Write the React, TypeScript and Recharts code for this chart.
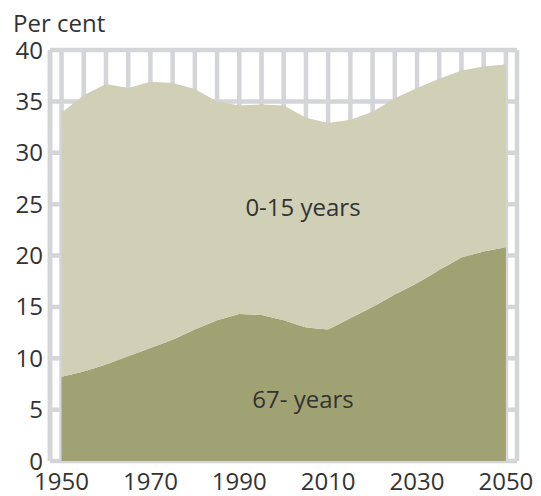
import { AreaChart, Area, XAxis, YAxis, CartesianGrid } from 'recharts';

const years = [1950, 1955, 1960, 1965, 1970, 1975, 1980, 1985, 1990, 1995, 2000, 2005, 2010, 2015, 2020, 2025, 2030, 2035, 2040, 2045, 2050];
const age67plus = [8.2, 8.7, 9.4, 10.2, 11.0, 11.8, 12.8, 13.7, 14.3, 14.2, 13.7, 13.0, 12.8, 13.9, 15.0, 16.2, 17.3, 18.6, 19.8, 20.4, 20.8];
const age0to15 = [25.7, 26.9, 27.3, 26.1, 25.9, 25.0, 23.4, 21.3, 20.3, 20.5, 20.9, 20.4, 20.1, 19.3, 19.0, 19.1, 19.0, 18.6, 18.2, 18.0, 17.8];
const labelYears = [1950, 1970, 1990, 2010, 2030, 2050];
const yTicks = [0, 5, 10, 15, 20, 25, 30, 35, 40];

const data = years.map((year, i) => ({ year, old: age67plus[i], young: age0to15[i] }));

const gridColor = '#d4d5d8';
const textColor = '#333333';
const font = "'Open Sans', sans-serif";

const App = () => {
  return (
    <div style={{ position: 'absolute', left: 0, top: 0, width: 541, height: 496, background: '#fff' }}>
      <AreaChart width={541} height={496} data={data} margin={{ top: 50, right: 24, bottom: 0, left: 0 }}>
        <CartesianGrid stroke={gridColor} strokeWidth={4.5} />
        <XAxis
          dataKey="year"
          type="number"
          domain={[1947.4, 2052.5]}
          ticks={years}
          interval={0}
          height={35}
          axisLine={false}
          tickLine={false}
          tickMargin={6}
          tick={{ fill: textColor, fontSize: 24, fontFamily: font }}
          tickFormatter={(v) => (labelYears.includes(v) ? String(v) : '')}
        />
        <YAxis
          domain={[0, 40]}
          ticks={yTicks}
          interval={0}
          width={50}
          axisLine={{ stroke: gridColor, strokeWidth: 4.5 }}
          tickLine={false}
          tickMargin={1}
          tick={{ fill: textColor, fontSize: 24, fontFamily: font }}
        />
        <Area type="linear" dataKey="old" stackId="a" stroke="none" fill="#a0a273" fillOpacity={1} isAnimationActive={false} />
        <Area type="linear" dataKey="young" stackId="a" stroke="none" fill="#cfd0b5" fillOpacity={1} isAnimationActive={false} />
      </AreaChart>
      {/* labels drawn on top of the chart */}
      <svg width={541} height={496} style={{ position: 'absolute', left: 0, top: 0, pointerEvents: 'none' }}>
        <text x={13} y={32} fill={textColor} fontSize={24} fontFamily={font}>Per cent</text>
        <text x={303} y={216} fill={textColor} fontSize={24} fontFamily={font} textAnchor="middle">0-15 years</text>
        <text x={303} y={408} fill={textColor} fontSize={24} fontFamily={font} textAnchor="middle">67- years</text>
      </svg>
    </div>
  );
};

export default App;
